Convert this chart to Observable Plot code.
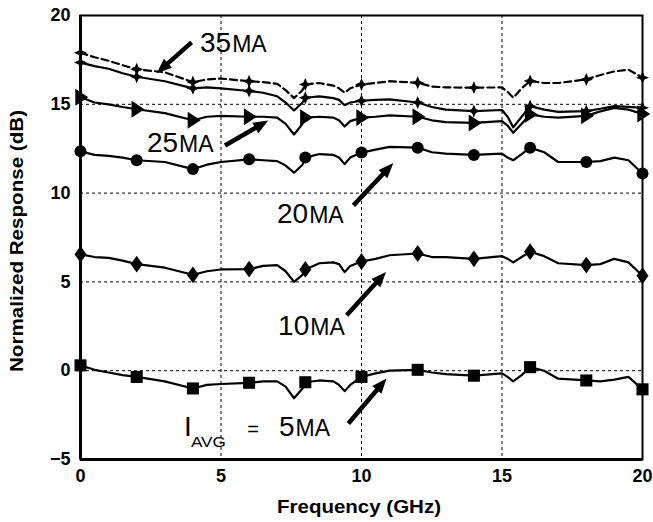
<!DOCTYPE html>
<html><head><meta charset="utf-8">
<script src="https://cdn.jsdelivr.net/npm/d3@7"></script>
<script src="https://cdn.jsdelivr.net/npm/@observablehq/plot@0.6"></script>
<style>body{margin:0;background:#fff}</style>
</head><body><div id="chart"></div>
<script>
// Frequency grid (GHz)
const freq = [0,0.5,1,1.5,2,3,4,4.5,5,6,6.5,7,7.3,7.6,7.9,8,8.5,9,9.2,9.4,9.6,10,10.5,11,12,12.5,13,14,15,15.2,15.4,15.7,16,16.5,17,18,18.5,19,19.5,20];
// Normalized response (dB) per bias current
const s5  = [0.3,0.05,-0.1,-0.25,-0.35,-0.6,-1.0,-0.8,-0.75,-0.68,-0.6,-0.6,-0.9,-1.55,-1.0,-0.65,-0.55,-0.6,-0.8,-1.15,-0.8,-0.35,-0.15,0.0,0.05,-0.1,-0.19,-0.28,-0.15,-0.35,-0.6,-0.25,0.2,0.0,-0.45,-0.55,-0.6,-0.5,-0.35,-1.05];
const s10 = [6.55,6.4,6.35,6.2,6.0,5.8,5.4,5.6,5.7,5.72,5.9,5.95,5.6,5.0,5.4,5.7,6.05,6.1,6.0,5.55,5.9,6.15,6.3,6.5,6.6,6.4,6.4,6.3,6.45,6.3,6.1,6.4,6.7,6.45,6.05,5.95,6.0,6.3,6.1,5.35];
const s20 = [12.35,12.15,12.1,12.0,11.85,11.75,11.35,11.6,11.75,11.9,11.85,11.8,11.55,11.15,11.6,12.0,12.2,12.15,12.0,11.63,12.0,12.28,12.45,12.6,12.56,12.3,12.22,12.15,12.22,12.0,11.85,12.2,12.56,12.3,11.75,11.75,11.8,12.0,11.85,11.1];
const s25 = [15.4,15.1,15.0,14.85,14.72,14.5,14.1,14.3,14.35,14.3,14.3,14.25,13.9,13.3,13.9,14.25,14.3,14.25,14.1,13.75,14.05,14.25,14.3,14.38,14.3,14.1,14.0,13.95,14.05,13.8,13.4,13.9,14.43,14.3,14.25,14.35,14.6,14.8,14.7,14.45];
const s30 = [17.35,17.15,17.0,16.75,16.55,16.3,15.9,15.95,15.9,15.75,15.65,15.45,15.1,14.65,15.1,15.37,15.45,15.35,15.25,14.95,15.1,15.2,15.25,15.28,15.1,14.85,14.7,14.62,14.68,14.3,13.7,14.3,14.9,14.7,14.57,14.62,14.75,14.9,14.85,14.8];
const s35 = [17.9,17.65,17.45,17.2,16.97,16.8,16.25,16.4,16.45,16.3,16.25,16.15,15.8,15.35,15.8,16.12,16.2,16.05,15.9,15.65,15.9,16.12,16.2,16.3,16.21,16.0,15.95,15.94,15.95,15.7,15.37,15.9,16.31,16.2,16.2,16.4,16.65,16.85,16.95,16.5];
const seriesNames = ["5mA","10mA","20mA","25mA","30mA","35mA"];
const seriesValues = [s5,s10,s20,s25,s30,s35];
const xTicks = [0,5,10,15,20];
const yTicks = [-5,0,5,10,15,20];
const xGrid = [5,10,15];
const yGrid = [0,5,10,15];
// Annotation labels: number, anchor (GHz, dB)
const labelNums = ["35","25","20","10"];
const labelAt = [[4.27,17.89],[2.38,12.26],[7.01,8.27],[7.05,1.97]];
// Arrows: [tailGHz, taildB, tipGHz, tipdB]
const arrows = [[3.97,18.46,2.73,16.72],[5.16,12.65,6.70,14.06],[9.73,9.28,11.15,11.66],[9.49,3.09,10.89,5.53],[9.55,-3.0,10.91,-0.47]];

const rows = [];
seriesNames.forEach((name, i) => freq.forEach((f, j) => rows.push({s: name, f, v: seriesValues[i][j]})));
const markerRows = name => rows.filter(d => d.s === name && Number.isInteger(d.f) && d.f % 2 === 0);

const rightTri = {draw(ctx, size){const r=Math.sqrt(size/Math.PI); ctx.moveTo(-0.8*r,-1.3*r); ctx.lineTo(1.2*r,0); ctx.lineTo(-0.8*r,1.3*r); ctx.closePath();}};
const tallDiamond = {draw(ctx, size){const r=Math.sqrt(size/Math.PI); ctx.moveTo(0,-1.4*r); ctx.lineTo(r,0); ctx.lineTo(0,1.4*r); ctx.lineTo(-r,0); ctx.closePath();}};
const star4 = {draw(ctx, size){const r=Math.sqrt(size/Math.PI), k=0.3*r; ctx.moveTo(0,-r); ctx.lineTo(k,-k); ctx.lineTo(r,0); ctx.lineTo(k,k); ctx.lineTo(0,r); ctx.lineTo(-k,k); ctx.lineTo(-r,0); ctx.lineTo(-k,-k); ctx.closePath();}};

const symbols = {"5mA":["square",6.8],"10mA":[tallDiamond,6],"20mA":["circle",6],"25mA":[rightTri,6.5],"30mA":[star4,6.5],"35mA":[star4,6.5]};

const marks = [
  Plot.ruleX(xGrid, {stroke:"black", strokeWidth:1, strokeDasharray:"3,3"}),
  Plot.ruleY(yGrid, {stroke:"black", strokeWidth:1, strokeDasharray:"3,3"}),
];
seriesNames.forEach(name => {
  const dashed = name === "35mA";
  marks.push(Plot.line(rows.filter(d => d.s === name), {x:"f", y:"v", stroke:"black", strokeWidth:2.2, strokeDasharray: dashed ? "7,4" : null}));
  const [sym, r] = symbols[name];
  marks.push(Plot.dot(markerRows(name), {x:"f", y:"v", symbol: sym, r, fill:"black", stroke:"none"}));
});
marks.push(
  Plot.frame({stroke:"black", strokeWidth:2}),
  Plot.ruleX([0], {stroke:"black", strokeWidth:3}),
  Plot.ruleY([-5], {stroke:"black", strokeWidth:3}),
  Plot.axisX(xTicks, {tickSize:0, tickPadding:10, label:null, fontSize:18, fontWeight:"bold"}),
  Plot.axisY(yTicks, {tickSize:0, tickPadding:10, label:null, fontSize:18, fontWeight:"bold"})
);

const plot = Plot.plot({
  width: 653, height: 522,
  marginLeft: 80, marginRight: 11, marginTop: 15, marginBottom: 63,
  x: {domain:[0,20]}, y: {domain:[-5,20]},
  style: {fontFamily: "'Liberation Sans', Arial, sans-serif", background:"white", color:"black"},
  marks
});
document.getElementById("chart").appendChild(plot);

const X = plot.scale("x"), Y = plot.scale("y");
const svg = d3.select(plot);
const g = svg.append("g").attr("font-family","'Liberation Sans', Arial, sans-serif").attr("fill","black").attr("text-anchor","start");

// axis titles
g.append("text").attr("x", 359).attr("y", 513).attr("text-anchor","middle").attr("font-size",19).attr("font-weight","bold")
  .attr("textLength",164).attr("lengthAdjust","spacingAndGlyphs").text("Frequency (GHz)");
g.append("text").attr("transform","translate(23,241) rotate(-90)").attr("text-anchor","middle").attr("font-size",18).attr("font-weight","bold")
  .attr("textLength",262).attr("lengthAdjust","spacingAndGlyphs").text("Normalized Response (dB)");

function numUnit(num, gx, gy){
  const px = X.apply(gx), py = Y.apply(gy);
  const t = g.append("text").attr("x", px).attr("y", py).attr("font-size", 28).text(num);
  const w = t.node().getComputedTextLength();
  g.append("text").attr("x", px + w + 1).attr("y", py).attr("font-size", 23).text("MA");
}
labelNums.forEach((n, i) => numUnit(n, labelAt[i][0], labelAt[i][1]));
// I_AVG = 5MA
{
  const px = X.apply(3.84), py = Y.apply(-3.71);
  g.append("text").attr("x", px - 4).attr("y", py).attr("font-size", 28).text("I");
  g.append("text").attr("x", px + 3).attr("y", py + 11).attr("font-size", 14)
    .attr("textLength", 35).attr("lengthAdjust","spacingAndGlyphs").text("AVG");
  g.append("text").attr("x", X.apply(5.95)).attr("y", py).attr("font-size", 20).text("=");
  numUnit("5", 7.08, -3.71);
}
// arrows
arrows.forEach(([x1,y1,x2,y2]) => {
  const ax = X.apply(x1), ay = Y.apply(y1), bx = X.apply(x2), by = Y.apply(y2);
  const dx = bx-ax, dy = by-ay, L = Math.hypot(dx,dy), ux = dx/L, uy = dy/L;
  const hl = 15, hw = 6;
  const cx = bx-ux*hl, cy = by-uy*hl;
  g.append("line").attr("x1",ax).attr("y1",ay).attr("x2",cx+ux*2).attr("y2",cy+uy*2).attr("stroke","black").attr("stroke-width",4.5);
  g.append("path").attr("d",`M${bx},${by}L${cx-uy*hw},${cy+ux*hw}L${cx+uy*hw},${cy-ux*hw}Z`).attr("fill","black");
});
</script></body></html>
